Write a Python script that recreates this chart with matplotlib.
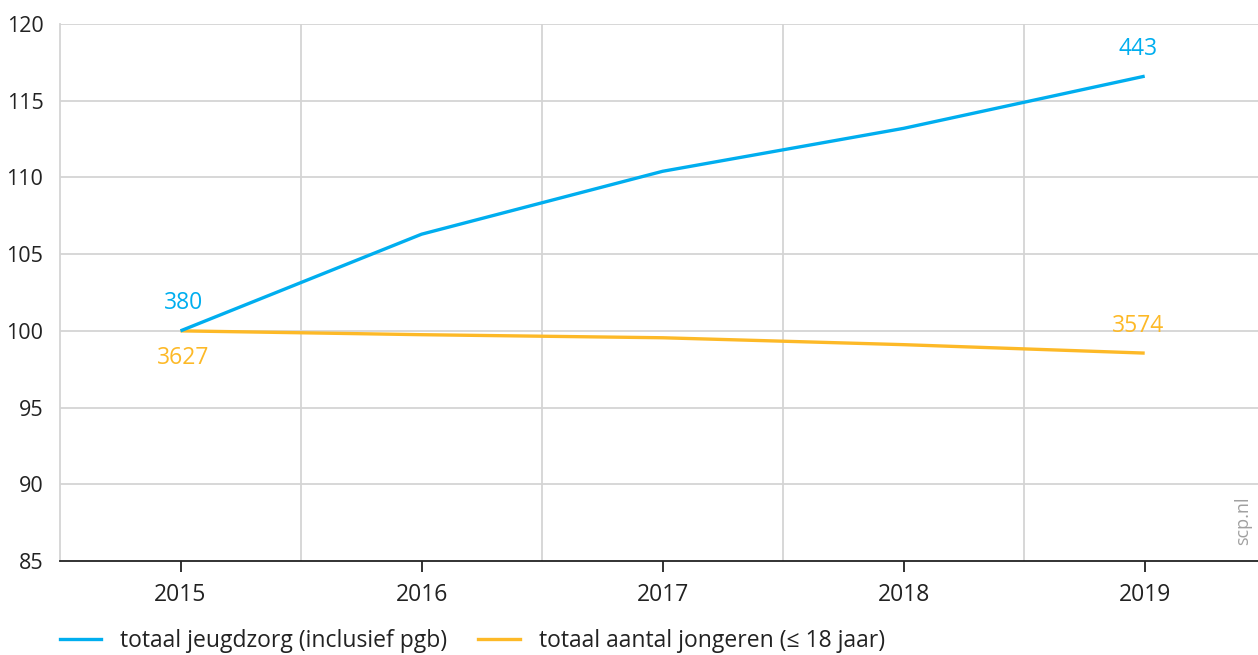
import matplotlib
matplotlib.use("Agg")
import matplotlib.pyplot as plt
from matplotlib.lines import Line2D

years = [2015, 2016, 2017, 2018, 2019]
jeugdzorg = [100.0, 106.3, 110.4, 113.2, 116.6]
jongeren = [100.0, 99.75, 99.55, 99.1, 98.55]
labels_series = ["totaal jeugdzorg (inclusief pgb)", "totaal aantal jongeren (\u2264 18 jaar)"]
yticks = [85, 90, 95, 100, 105, 110, 115, 120]

blue = "#00AEEF"
orange = "#FDB927"
grid = "#d4d4d4"
text = "#222222"

plt.rcParams['font.family'] = ['Open Sans', 'DejaVu Sans']

fig = plt.figure(figsize=(12.58, 6.55), dpi=100)
ax = fig.add_axes([60/1258, 1-561/655, 1-60/1258, (561-24)/655])

ax.set_xlim(2014.5, 2019.47)
ax.set_ylim(85, 120)
ax.set_yticks(yticks)
ax.set_xticks(years)
ax.set_xticklabels([str(y) for y in years])

for v in yticks[1:]:
    ax.axhline(v, color=grid, lw=1.3, zorder=0)
for x in [2015.5, 2016.5, 2017.5, 2018.5]:
    ax.axvline(x, color=grid, lw=1.3, zorder=0)

for s in ['top', 'right']:
    ax.spines[s].set_visible(False)
ax.spines['left'].set_color(grid)
ax.spines['left'].set_linewidth(1.3)
ax.spines['bottom'].set_color(text)
ax.spines['bottom'].set_linewidth(1.3)

ax.tick_params(axis='y', length=0, labelsize=15.5, labelcolor=text, pad=12)
ax.tick_params(axis='x', length=8, width=1.3, color=text, labelsize=16.5, labelcolor=text, pad=8)

ax.plot(years, jeugdzorg, color=blue, lw=2.4, solid_capstyle='butt', zorder=3)
ax.plot(years, jongeren, color=orange, lw=2.4, solid_capstyle='butt', zorder=2)

fs_ann = 16.5
ax.annotate("380", (years[0], jeugdzorg[0]), xytext=(3, 28), textcoords='offset pixels',
            ha='center', va='center', color=blue, fontsize=fs_ann)
ax.annotate("3627", (years[0], jongeren[0]), xytext=(3, -27), textcoords='offset pixels',
            ha='center', va='center', color=orange, fontsize=fs_ann)
ax.annotate("443", (years[-1], jeugdzorg[-1]), xytext=(-7, 27), textcoords='offset pixels',
            ha='center', va='center', color=blue, fontsize=fs_ann)
ax.annotate("3574", (years[-1], jongeren[-1]), xytext=(-7, 27), textcoords='offset pixels',
            ha='center', va='center', color=orange, fontsize=fs_ann)

fig.text(1243/1258, 1-521/655, "scp.nl", rotation=90, ha='center', va='center',
         color="#a0a0a0", fontsize=13)

handles = [Line2D([], [], color=blue, lw=2.4), Line2D([], [], color=orange, lw=2.4)]
fig.legend(handles, labels_series, loc='center left', bbox_to_anchor=(44/1258, 1-641/655),
           ncol=2, frameon=False, fontsize=16.5, handlelength=1.8, handletextpad=0.83,
           columnspacing=1.35, labelcolor=text, borderpad=0.2)

fig.savefig("out.png", dpi=100)
